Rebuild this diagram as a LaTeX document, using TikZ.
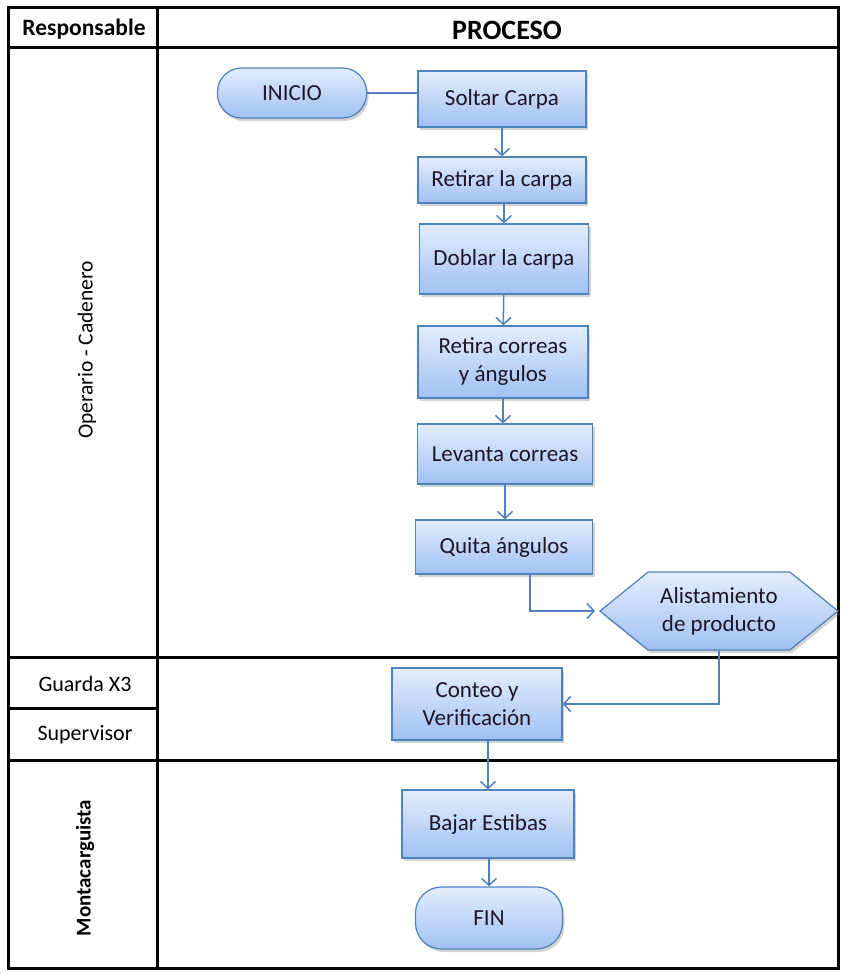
\documentclass[tikz,border=0pt]{standalone}
\usepackage{fontspec}
\setmainfont{Carlito}
\usetikzlibrary{arrows.meta, positioning, shapes.misc, shapes.symbols, shadows}
\definecolor{flowline}{RGB}{79,129,189}
\definecolor{boxtop}{RGB}{228,237,253}
\definecolor{boxbottom}{RGB}{160,192,243}
\definecolor{boxtext}{RGB}{30,22,40}

\begin{document}
\begin{tikzpicture}[x=1pt, y=-1pt,
      grid_line/.style={draw=black, line width=3pt},
      head_label/.style={font=\bfseries\fontsize{23.5}{26}\selectfont},
      lane_label/.style={font=\fontsize{22}{26}\selectfont},
      step_box/.style={draw=flowline, line width=1.2pt, top color=boxtop, bottom color=boxbottom, text=boxtext, font=\fontsize{23}{28}\selectfont, align=center, inner sep=0pt, drop shadow={opacity=0.35, shadow xshift=2pt, shadow yshift=-3pt}},
      terminal/.style={step_box, rounded corners=24pt},
      prep_box/.style={step_box, shape=signal, signal to=west and east, signal pointer angle=78},
      flow/.style={draw=flowline, line width=1.5pt},
      arrow/.style={flow, -{Straight Barb[length=7pt, width=15pt, line width=1.5pt]}}
    ]
      \useasboundingbox (0,0) rectangle (841,974);

      % Table frame and lane separators
      \draw[grid_line] (8,8) rectangle (838,968);
      \draw[grid_line] (157,8) -- (157,968);
      \foreach \y in {48,657,760} {
        \draw[grid_line] (8,\y) -- (838,\y);
      }
      \draw[grid_line] (8,708) -- (157,708);

      % Header texts
      \node[head_label] (head_resp) at (84,29) {Responsable};
      \node[head_label, font=\bfseries\fontsize{28}{30}\selectfont] (head_proc) at (507,30) {PROCESO};

      % Lane names
      \node[lane_label, font=\fontsize{21.5}{24}\selectfont, rotate=90] (lane_operario) at (87,350) {Operario - Cadenero};
      \node[lane_label] (lane_guarda) at (85,684) {Guarda X3};
      \node[lane_label] (lane_super) at (85,735) {Supervisor};
      \node[lane_label, font=\bfseries\fontsize{21}{24}\selectfont, rotate=90] (lane_monta) at (85,868) {Montacarguista};

      % Process steps
      \node[terminal, minimum width=149, minimum height=50] (inicio) at (292,93) {INICIO};
      \node[step_box, minimum width=168, minimum height=56] (soltar) at (502,99) {Soltar Carpa};
      \node[step_box, minimum width=168, minimum height=46] (retirar) at (502,180) {Retirar la carpa};
      \node[step_box, minimum width=169, minimum height=70] (doblar) at (504,259) {Doblar la carpa};
      \node[step_box, minimum width=170, minimum height=72] (retira) at (503,362) {Retira correas\\y ángulos};
      \node[step_box, minimum width=175, minimum height=60] (levanta) at (505,454) {Levanta correas};
      \node[step_box, minimum width=177, minimum height=54] (quita) at (504,547) {Quita ángulos};
      \node[prep_box, minimum width=238, minimum height=78] (alist) at (719,611) {Alistamiento\\de producto};
      \node[step_box, minimum width=170, minimum height=72] (conteo) at (477,704) {Conteo y\\Verificación};
      \node[step_box, minimum width=172, minimum height=68] (bajar) at (488,824) {Bajar Estibas};
      \node[terminal, rounded corners=26pt, minimum width=147, minimum height=62] (fin) at (489,918) {FIN};

      % Connectors
      \draw[flow] (inicio.east) -- (inicio.east -| soltar.west);
      \draw[arrow] (soltar) -- (retirar);
      \draw[arrow] (retirar.south -| doblar.north) -- (doblar.north);
      \draw[arrow] (doblar) -- (retira);
      \draw[arrow] (retira) -- (retira |- levanta.north);
      \draw[arrow] (levanta) -- (levanta |- quita.north);
      \draw[arrow] ([xshift=26pt]quita.south) |- ([xshift=-4pt]alist.west);
      \draw[arrow] (alist.south) |- (conteo.east);
      \draw[arrow] (conteo.south -| bajar.north) -- (bajar.north);
      \draw[arrow] (bajar.south -| fin.north) -- (fin.north);
    \end{tikzpicture}
\end{document}
